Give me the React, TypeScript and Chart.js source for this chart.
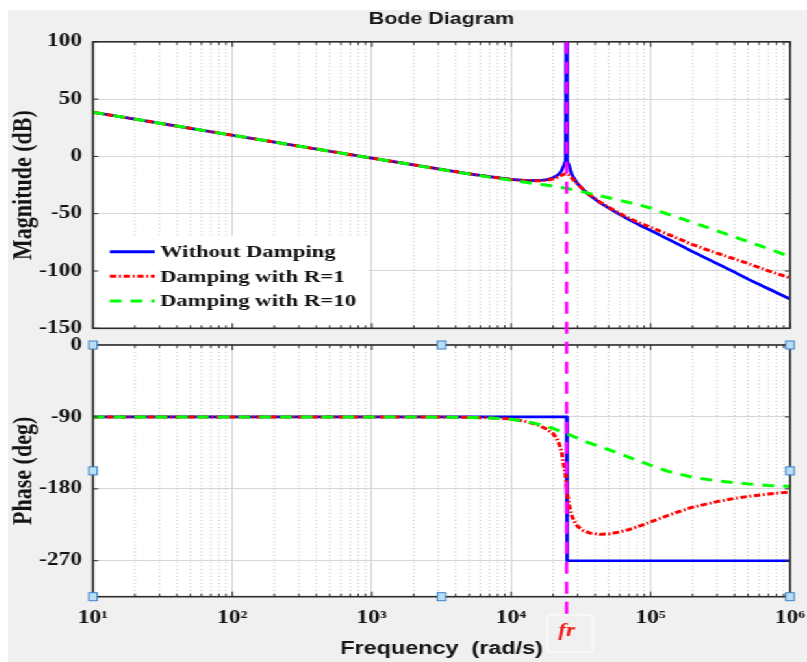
import React, { useEffect, useRef } from 'react';
import { Chart, registerables } from 'chart.js';

Chart.register(...registerables);

// ---------------- data ----------------
const TITLE = 'Bode Diagram';
const MAG_AXIS_TITLE = 'Magnitude (dB)';
const PHASE_AXIS_TITLE = 'Phase (deg)';
const FREQ_AXIS_TITLE = 'Frequency  (rad/s)';
const FR_LABEL = 'fr';
const SERIES_LABELS = ['Without Damping', 'Damping with R=1', 'Damping with R=10'];

const FREQ_RANGE = [10, 1e6];
const MAG_RANGE = [-150, 100];
const PHASE_RANGE = [-315, 0];
const MAG_TICKS = [-150, -100, -50, 0, 50, 100];
const PHASE_TICKS = [-270, -180, -90, 0];
const X_DECADES = [1e1, 1e2, 1e3, 1e4, 1e5, 1e6];
const X_TICK_LABELS = ['10¹', '10²', '10³', '10⁴', '10⁵', '10⁶'];
const FR = 2.5e4;

const FREQ = [
  10, 20, 50, 100, 200, 500, 1e3, 2e3, 3e3, 5e3, 7e3, 1e4, 1.3e4, 1.6e4, 1.8e4,
  2e4, 2.1e4, 2.2e4, 2.3e4, 2.4e4, 2.46e4, 2.5e4, 2.5e4, 2.54e4, 2.6e4, 2.7e4, 2.8e4,
  3e4, 3.3e4, 3.7e4, 4.3e4, 5e4, 6e4, 7e4, 8.5e4, 1e5, 1.3e5, 1.6e5, 2e5, 3e5, 4e5,
  5e5, 7e5, 1e6,
];

const MAG_NO_DAMP = [
  38.5, 32.5, 24.5, 18.5, 12.5, 4.5, -1.5, -7.4, -10.9, -15.2, -17.7, -20.0, -21.1, -21.0, -20.3,
  -18.6, -17.3, -15.4, -12.4, -7.5, -4.0, 160, 160, -4.5, -8.0, -14.5, -18.5,
  -23.9, -29.3, -34.4, -40.2, -45.0, -50.7, -55.1, -60.5, -64.5, -71.5, -77.0, -83.0, -93.5, -101.0,
  -107.0, -115.5, -124.5,
];

const MAG_R1 = [
  38.5, 32.5, 24.5, 18.5, 12.5, 4.5, -1.5, -7.4, -10.9, -15.2, -17.8, -20.2, -21.3, -21.3, -20.8,
  -19.7, -18.8, -17.7, -16.5, -15.5, -15.2, -15.2, -15.2, -15.6, -16.4, -18.4, -20.5,
  -24.3, -29.0, -33.9, -39.6, -44.4, -49.8, -53.9, -58.6, -61.8, -67.5, -72.0, -77.0, -84.5, -89.5,
  -93.5, -99.8, -106.0,
];

const MAG_R10 = [
  38.5, 32.5, 24.5, 18.5, 12.5, 4.5, -1.5, -7.5, -11.0, -15.4, -18.1, -20.8, -22.8, -24.3, -25.2,
  -25.9, -26.3, -26.7, -27.1, -27.5, -27.7, -27.9, -27.9, -28.1, -28.3, -28.8, -29.2,
  -30.0, -31.1, -32.5, -34.3, -36.1, -38.3, -40.2, -42.8, -45.0, -49.9, -53.7, -57.6, -65.0, -70.3,
  -74.4, -80.5, -87.5,
];

const PH_NO_DAMP = [
  -90, -90, -90, -90, -90, -90, -90, -90, -90, -90, -90, -90, -90, -90, -90,
  -90, -90, -90, -90, -90, -90, -90, -270, -270, -270, -270, -270,
  -270, -270, -270, -270, -270, -270, -270, -270, -270, -270, -270, -270, -270, -270,
  -270, -270, -270,
];

const PH_R1 = [
  -90, -90, -90, -90, -90, -90, -90, -90.1, -90.2, -90.5, -91.2, -92.5, -96, -101, -105.5,
  -111, -116, -123, -134, -152, -164, -178, -178, -190, -200, -212, -219,
  -227, -232.5, -235.5, -237, -236.5, -234, -231, -226, -221.5, -214, -208.5, -203, -196, -192,
  -189.5, -186.5, -184,
];

const PH_R10 = [
  -90, -90, -90, -90, -90, -90, -90, -90.1, -90.3, -90.7, -91.3, -93, -96, -99.5, -102,
  -104.5, -106, -107.3, -108.5, -109.7, -110.3, -111, -111, -111.6, -112.2, -113.3, -114.5,
  -116.7, -119.7, -123, -127, -131, -136, -140.5, -146, -150.5, -157.5, -161.5, -165.5, -170, -172.3,
  -173.8, -175.7, -177,
];

// ---------------- styles / layout ----------------
const SERIF = '"Liberation Serif", "Times New Roman", serif';
const SANS = '"Liberation Sans", Arial, sans-serif';
const TEXT = '#141414';
const AXIS_COLOR = '#2b2b2b';
const MAJOR_GRID = '#d6d6d6';
const MINOR_GRID = '#c2c2c2';
const STYLES = [
  { color: '#0000ff', dash: [] as number[], order: 3, width: 2.7 },
  { color: '#ff0000', dash: [5, 2, 1.5, 2], order: 2, width: 3 },
  { color: '#00ff00', dash: [9, 7], order: 1, width: 3 },
];
const MAGENTA = '#ff00ff';

const PAGE_W = 799;
const PAGE_H = 652;
const CW = 615;
const SX = PAGE_W / CW;
const PLOT_L = 85 / SX;
const PLOT_R = 782 / SX;
const TOP_T = 31.8;
const TOP_B = 318.3;
const BOT_T = 335;
const BOT_B = 586.7;
const X_AXIS_H = 65;

const isDecade = (v: any) =>
  typeof v === 'number' && v > 0 && Math.abs(Math.log10(v) - Math.round(Math.log10(v))) < 1e-6;

const X_GRID_VALUES: number[] = (() => {
  const out: number[] = [];
  for (let i = 0; i < X_DECADES.length - 1; i++) {
    for (let k = 1; k <= 9; k++) out.push(X_DECADES[i] * k);
  }
  out.push(X_DECADES[X_DECADES.length - 1]);
  return out;
})();

const toXY = (xs: number[], ys: number[]) => xs.map((x, i) => ({ x, y: ys[i] }));

function makeDatasets(series: number[][]) {
  return series.map((vals, i) => ({
    label: SERIES_LABELS[i],
    data: toXY(FREQ, vals),
    borderColor: STYLES[i].color,
    borderDash: STYLES[i].dash,
    borderWidth: STYLES[i].width,
    borderJoinStyle: 'round',
    pointRadius: 0,
    fill: false,
    tension: 0,
    order: STYLES[i].order,
  }));
}

function xScale(showLabels: boolean) {
  return {
    type: 'logarithmic',
    position: 'bottom',
    min: FREQ_RANGE[0],
    max: FREQ_RANGE[1],
    afterBuildTicks: (s: any) => {
      s.ticks = X_GRID_VALUES.map((v) => ({ value: v }));
    },
    afterFit: (s: any) => {
      s.height = showLabels ? X_AXIS_H : 0;
      s.paddingLeft = 0;
      s.paddingRight = 0;
    },
    grid: {
      color: (c: any) => (c.tick && isDecade(c.tick.value) ? MAJOR_GRID : 'rgba(0,0,0,0)'),
      lineWidth: 1.1,
      drawTicks: false,
    },
    border: { display: false },
    ticks: {
      display: showLabels,
      autoSkip: false,
      maxRotation: 0,
      minRotation: 0,
      padding: 11,
      color: TEXT,
      font: { family: SERIF, size: 18, weight: 'bold' },
      callback: (v: any) => {
        const i = X_DECADES.findIndex((d) => Math.abs(d - v) / d < 1e-6);
        return i >= 0 ? X_TICK_LABELS[i] : '';
      },
    },
    title: {
      display: showLabels,
      text: FREQ_AXIS_TITLE,
      color: TEXT,
      font: { family: SANS, size: 18, weight: 'bold', lineHeight: 1.2 },
      padding: { top: 0, bottom: 2 },
    },
  };
}

function yScale(range: number[], ticks: number[], title: string) {
  return {
    type: 'linear',
    position: 'left',
    min: range[0],
    max: range[1],
    afterBuildTicks: (s: any) => {
      s.ticks = ticks.map((v) => ({ value: v }));
    },
    afterFit: (s: any) => {
      s.width = PLOT_L;
      s.paddingTop = 0;
      s.paddingBottom = 0;
    },
    grid: { color: MAJOR_GRID, lineWidth: 1.1, drawTicks: false },
    border: { display: false },
    ticks: {
      padding: 8.5,
      color: TEXT,
      font: { family: SERIF, size: 18, weight: 'bold' },
      callback: (v: any) => String(v),
    },
    title: {
      display: true,
      text: title,
      color: TEXT,
      font: { family: SERIF, size: 22, weight: 'bold', lineHeight: 1 },
      padding: { top: 1, bottom: 0 },
    },
  };
}

// ---------------- plugins ----------------
const plotBg = {
  id: 'plotBg',
  beforeDraw(chart: any) {
    const { ctx, chartArea: a } = chart;
    ctx.save();
    ctx.fillStyle = '#ffffff';
    ctx.fillRect(a.left, a.top, a.right - a.left, a.bottom - a.top);
    ctx.restore();
  },
};

const minorGrid = {
  id: 'minorGrid',
  beforeDatasetsDraw(chart: any) {
    const { ctx, chartArea: a, scales } = chart;
    const x = scales.x;
    ctx.save();
    ctx.strokeStyle = MINOR_GRID;
    ctx.lineWidth = 1;
    ctx.setLineDash([1, 2.5]);
    ctx.beginPath();
    for (const t of x.ticks) {
      if (isDecade(t.value)) continue;
      const px = x.getPixelForValue(t.value);
      ctx.moveTo(px, a.top);
      ctx.lineTo(px, a.bottom);
    }
    ctx.stroke();
    ctx.restore();
  },
};

const axesBox = {
  id: 'axesBox',
  afterDraw(chart: any) {
    const { ctx, chartArea: a, scales } = chart;
    const x = scales.x;
    const y = scales.y;
    ctx.save();
    ctx.strokeStyle = AXIS_COLOR;
    ctx.lineWidth = 1;
    ctx.beginPath();
    for (const t of x.ticks) {
      const px = x.getPixelForValue(t.value);
      const len = isDecade(t.value) ? 5 : 3;
      ctx.moveTo(px, a.bottom);
      ctx.lineTo(px, a.bottom - len);
      ctx.moveTo(px, a.top);
      ctx.lineTo(px, a.top + len);
    }
    for (const t of y.ticks) {
      const py = y.getPixelForValue(t.value);
      ctx.moveTo(a.left, py);
      ctx.lineTo(a.left + 4, py);
      ctx.moveTo(a.right, py);
      ctx.lineTo(a.right - 4, py);
    }
    ctx.stroke();
    ctx.lineWidth = 1.6;
    ctx.strokeRect(a.left, a.top, a.right - a.left, a.bottom - a.top);
    ctx.restore();
  },
};

const titlePlugin = {
  id: 'bodeTitle',
  afterDraw(chart: any) {
    const { ctx, chartArea: a } = chart;
    ctx.save();
    ctx.font = `bold 16.5px ${SANS}`;
    ctx.fillStyle = TEXT;
    ctx.textAlign = 'center';
    ctx.textBaseline = 'middle';
    ctx.fillText(TITLE, (a.left + a.right) / 2, a.top - 22.8);
    ctx.restore();
  },
};

const legendBox = {
  id: 'legendBox',
  afterDraw(chart: any) {
    const { ctx, chartArea: a } = chart;
    ctx.save();
    ctx.fillStyle = '#ffffff';
    ctx.fillRect(a.left + 1, a.bottom - 92.3, 210.8, 91.3);
    ctx.font = `bold 17.5px ${SERIF}`;
    ctx.textAlign = 'left';
    ctx.textBaseline = 'middle';
    SERIES_LABELS.forEach((label, i) => {
      const yy = a.bottom - 76.6 + i * 24.6;
      ctx.strokeStyle = STYLES[i].color;
      ctx.lineWidth = 3;
      ctx.setLineDash(STYLES[i].dash);
      ctx.beginPath();
      ctx.moveTo(a.left + 13, yy);
      ctx.lineTo(a.left + 47.5, yy);
      ctx.stroke();
      ctx.setLineDash([]);
      ctx.fillStyle = TEXT;
      ctx.fillText(label, a.left + 51.5, yy + 1);
    });
    ctx.restore();
  },
};

function frMarker(getTopY: () => number) {
  return {
    id: 'frMarker',
    afterDraw(chart: any) {
      const { ctx, chartArea: a, scales } = chart;
      const px = scales.x.getPixelForValue(FR);
      ctx.save();
      ctx.strokeStyle = '#f9f9f9';
      ctx.lineWidth = 1.5;
      ctx.strokeRect(px - 14.6, a.bottom + 18.3, 34.6, 37);
      ctx.strokeStyle = MAGENTA;
      ctx.lineWidth = 2.5;
      ctx.setLineDash([12, 8]);
      ctx.beginPath();
      ctx.moveTo(px, getTopY());
      ctx.lineTo(px, a.bottom + 21);
      ctx.stroke();
      ctx.setLineDash([]);
      ctx.font = `italic bold 18px ${SERIF}`;
      ctx.fillStyle = '#f01818';
      ctx.textAlign = 'center';
      ctx.textBaseline = 'middle';
      ctx.fillText(FR_LABEL, px, a.bottom + 35);
      ctx.restore();
    },
  };
}

const handles = {
  id: 'handles',
  afterDraw(chart: any) {
    const { ctx, chartArea: a } = chart;
    const hx = [a.left, (a.left + a.right) / 2, a.right];
    const hy = [a.top, (a.top + a.bottom) / 2, a.bottom];
    const w = 6.5;
    const h = 8;
    ctx.save();
    ctx.fillStyle = '#b9ddf5';
    ctx.strokeStyle = '#3b80c6';
    ctx.lineWidth = 1;
    for (let i = 0; i < 3; i++) {
      for (let j = 0; j < 3; j++) {
        if (j === 1 && i === 1) continue;
        ctx.fillRect(hx[i] - w / 2, hy[j] - h / 2, w, h);
        ctx.strokeRect(hx[i] - w / 2, hy[j] - h / 2, w, h);
      }
    }
    ctx.restore();
  },
};

const baseOptions = {
  responsive: false,
  animation: false,
  events: [],
  devicePixelRatio: 1,
  plugins: {
    legend: { display: false },
    tooltip: { enabled: false },
    title: { display: false },
  },
};

export default function App() {
  const topRef = useRef<HTMLCanvasElement>(null);
  const botRef = useRef<HTMLCanvasElement>(null);

  useEffect(() => {
    const topChart: any = new Chart(topRef.current as any, {
      type: 'line',
      data: { datasets: makeDatasets([MAG_NO_DAMP, MAG_R1, MAG_R10]) as any },
      options: {
        ...baseOptions,
        layout: {
          autoPadding: false,
          padding: { left: 0, right: CW - PLOT_R, top: TOP_T, bottom: PAGE_H - TOP_B },
        },
        scales: {
          x: xScale(false),
          y: yScale(MAG_RANGE, MAG_TICKS, MAG_AXIS_TITLE),
        },
      } as any,
      plugins: [plotBg, minorGrid, legendBox, axesBox, titlePlugin],
    });

    const botChart: any = new Chart(botRef.current as any, {
      type: 'line',
      data: { datasets: makeDatasets([PH_NO_DAMP, PH_R1, PH_R10]) as any },
      options: {
        ...baseOptions,
        layout: {
          autoPadding: false,
          padding: { left: 0, right: CW - PLOT_R, top: BOT_T, bottom: PAGE_H - BOT_B - X_AXIS_H },
        },
        scales: {
          x: xScale(true),
          y: yScale(PHASE_RANGE, PHASE_TICKS, PHASE_AXIS_TITLE),
        },
      } as any,
      plugins: [plotBg, minorGrid, axesBox, frMarker(() => topChart.chartArea.top), handles],
    });

    return () => {
      botChart.destroy();
      topChart.destroy();
    };
  }, []);

  return (
    <div
      style={{
        position: 'absolute',
        left: 8,
        top: 10,
        width: PAGE_W,
        height: PAGE_H,
        background: '#f0f0f0',
        overflow: 'hidden',
      }}
    >
      <div
        style={{
          position: 'absolute',
          left: 0,
          top: 0,
          width: CW,
          height: PAGE_H,
          transform: `scaleX(${SX})`,
          transformOrigin: '0 0',
        }}
      >
        <canvas ref={topRef} width={CW} height={PAGE_H} style={{ position: 'absolute', left: 0, top: 0 }} />
        <canvas ref={botRef} width={CW} height={PAGE_H} style={{ position: 'absolute', left: 0, top: 0 }} />
      </div>
    </div>
  );
}
